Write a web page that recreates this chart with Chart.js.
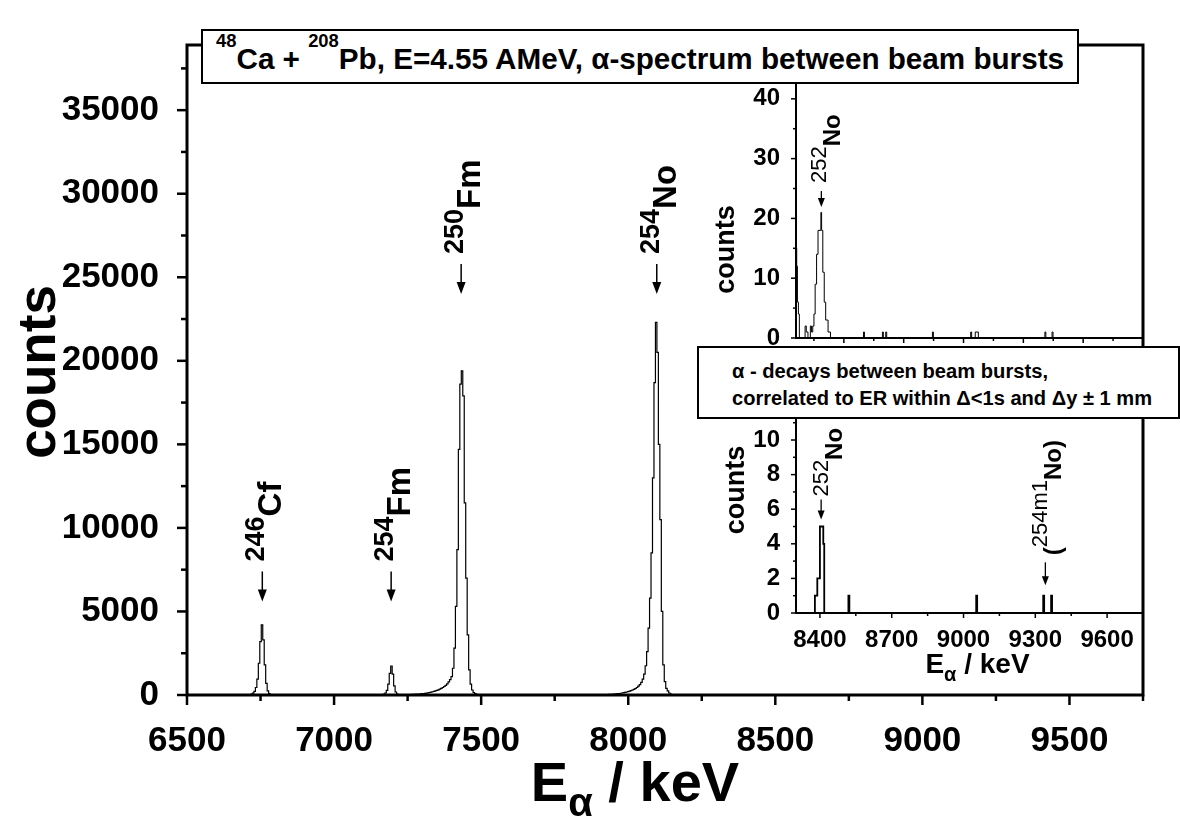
<!DOCTYPE html>
<html>
<head>
<meta charset="utf-8">
<title>48Ca + 208Pb alpha spectrum</title>
<script src="https://cdn.jsdelivr.net/npm/chart.js@4.4.1/dist/chart.umd.min.js"></script>
<style>
  body { margin: 0; background: #fff; }
  #wrap { position: relative; width: 1180px; height: 838px; overflow: hidden; background: #fff; }
  canvas { position: absolute; }
  #mainChart { left: 0; top: 0; }
  #topInset { left: 700px; top: 40px; }
  #botInset { left: 700px; top: 400px; }
  .box { position: absolute; box-sizing: border-box; background: #fff; border: 2px solid #000;
         font-family: "Liberation Sans", Arial, sans-serif; font-weight: bold; color: #000; }
  .txt { position: absolute; white-space: nowrap; transform-origin: 0 50%; }
  #titleBox { left: 201px; top: 29px; width: 878px; height: 55px; }
  #titleTxt { left: 13px; top: 14px; font-size: 29px; line-height: 29px; }
  .sup { position: relative; top: -22px; font-size: 18px; }
  #capBox { left: 697px; top: 346px; width: 483px; height: 73px; }
  #cap1 { left: 33px; top: 13px; font-size: 20px; line-height: 20px; }
  #cap2 { left: 33px; top: 40px; font-size: 20px; line-height: 20px; }
</style>
</head>
<body>
<div id="wrap">
  <canvas id="mainChart" width="1180" height="838"></canvas>
  <canvas id="topInset" width="450" height="305"></canvas>
  <canvas id="botInset" width="450" height="292"></canvas>
  <div class="box" id="titleBox"><div class="txt" id="titleTxt"><span class="sup">48</span>Ca + <span class="sup">208</span>Pb, E=4.55 AMeV, α-spectrum between beam bursts</div></div>
  <div class="box" id="capBox"><div class="txt" id="cap1">α - decays between beam bursts,</div><div class="txt" id="cap2">correlated to ER within Δ&lt;1s and Δy ± 1 mm</div></div>
</div>
<script>
const FONT = '"Liberation Sans", Arial, sans-serif';

// ---------------- main spectrum (5 keV bins) ----------------
const binWidth = 5;
const cf246Start = 6715;
const cf246Counts = [30, 60, 110, 220, 450, 950, 1900, 3200, 4200, 3300, 1800, 700, 250, 90, 30, 0];
const fm254Start = 7150;
const fm254Counts = [5, 10, 20, 30, 60, 120, 280, 650, 1300, 1735, 1250, 550, 180, 60, 20, 5, 0];
const fm250Start = 7250;
const fm250Counts = [20, 25, 30, 35, 40, 45, 50, 55, 60, 70,
    80, 90, 100, 115, 130, 150, 170, 195, 220, 250,
    280, 310, 350, 400, 450, 510, 580, 660, 780, 920,
    1100, 1600, 2800, 5300, 8700, 14700, 18600, 19400, 17900, 11500,
    7000, 3600, 1500, 650, 300, 150, 80, 40, 20, 10, 0];
const no254Start = 7900;
const no254Counts = [10, 12, 15, 18, 20, 25, 30, 35, 40, 45,
    50, 60, 70, 80, 90, 105, 120, 140, 160, 180,
    200, 230, 260, 300, 340, 390, 450, 530, 620, 750,
    950, 1250, 1750, 2600, 4000, 5800, 8500, 13000, 18700, 22300,
    20500, 15000, 10500, 5000, 1800, 800, 400, 250, 120, 60,
    30, 10, 0];

const mainXTicks = [6500, 7000, 7500, 8000, 8500, 9000, 9500];
const mainXMinor = [6750, 7250, 7750, 8250, 8750, 9250, 9750];
const mainYTicks = [0, 5000, 10000, 15000, 20000, 25000, 30000, 35000];
const mainYMinor = [2500, 7500, 12500, 17500, 22500, 27500, 32500, 37500];

const peakEnergies = [6756, 7194, 7432, 8097];
const peakArrowTips = [5600, 5600, 24000, 24000];
const peakMass = ['246', '254', '250', '254'];
const peakElem = ['Cf', 'Fm', 'Fm', 'No'];

// ---------------- upper inset: all alphas between bursts ----------------
const topInsetE = [8300, 8303, 8306, 8310, 8314, 8338, 8343, 8350, 8360, 8365, 8370, 8375, 8380, 8386, 8392,
    8404, 8407, 8412, 8418, 8424, 8434, 8444, 8582, 8586, 8661, 8665, 8675, 8679, 8870, 8874,
    9030, 9034, 9049, 9062, 9340, 9344, 9370, 9374, 9750];
const topInsetCounts = [15, 12, 6, 4, 0, 2, 1, 0, 2, 1, 2, 4, 9, 14, 18,
    21, 18, 11, 6, 3, 1, 0, 1, 0, 1, 0, 1, 0, 1, 0,
    1, 0, 1, 0, 1, 0, 1, 0, 0];
const topXMajor = [8500, 8750, 9000, 9250, 9500];
const topXMinor = [8375, 8625, 8875, 9125, 9375, 9625];
const topYTicks = [0, 10, 20, 30, 40];
const topYMinor = [5, 15, 25, 35, 45];
const topPeakE = [8406];
const topPeakTip = [21.9];
const topPeakMass = ['252'];
const topPeakElem = ['No'];

// ---------------- lower inset: correlated to ER ----------------
const botInsetE = [8300, 8379, 8389, 8400, 8414, 8418, 8519, 8523, 9053, 9057, 9333, 9337, 9366, 9370, 9750];
const botInsetCounts = [0, 1, 2, 5, 4, 0, 1, 0, 1, 0, 1, 0, 1, 0, 0];
const botXTicks = [8400, 8700, 9000, 9300, 9600];
const botXMinor = [8550, 8850, 9150, 9450];
const botYTicks = [0, 2, 4, 6, 8, 10];
const botYMinor = [1, 3, 5, 7, 9, 11];
const botPeakE = [8405, 9342];
const botPeakTip = [5.4, 1.6];
const botPeakMass = ['252', '254m1'];
const botPeakElem = ['No', 'No'];
const botPeakWrap = [false, true];

// ---------------- helpers ----------------
const toPoints = (start, counts) => counts.map((c, i) => ({ x: start + i * binWidth, y: c }));
const zipPoints = (xs, ys) => xs.map((x, i) => ({ x, y: ys[i] }));

const richWidth = (ctx, parts) => parts.reduce((w, p) => { ctx.font = p.font; return w + ctx.measureText(p.text).width; }, 0);

const drawRich = (ctx, parts, x, y, rotated) => {
    ctx.save();
    ctx.translate(x, y);
    if (rotated) ctx.rotate(-Math.PI / 2);
    ctx.textAlign = 'left';
    ctx.textBaseline = 'alphabetic';
    let cx = 0;
    parts.forEach(p => {
        ctx.font = p.font;
        ctx.fillText(p.text, cx, -(p.rise || 0));
        cx += ctx.measureText(p.text).width;
    });
    ctx.restore();
};

// frame, major/minor ticks, axis titles and peak arrows, placed with the chart's scales
const makeDecor = cfg => ({
    id: 'decor',
    afterDraw(chart) {
        const { ctx, chartArea: a, scales: { x, y } } = chart;
        ctx.save();
        ctx.strokeStyle = '#000';
        ctx.fillStyle = '#000';
        ctx.lineWidth = cfg.frame;
        ctx.strokeRect(a.left, a.top, a.right - a.left, a.bottom - a.top);

        ctx.lineWidth = cfg.tickWidth;
        const xTick = (v, len) => {
            const px = x.getPixelForValue(v);
            ctx.beginPath(); ctx.moveTo(px, a.bottom); ctx.lineTo(px, a.bottom + len); ctx.stroke();
        };
        const yTick = (v, len) => {
            const py = y.getPixelForValue(v);
            ctx.beginPath(); ctx.moveTo(a.left, py); ctx.lineTo(a.left - len, py); ctx.stroke();
        };
        cfg.xMajor.forEach(v => xTick(v, cfg.majorLen));
        cfg.xMinor.forEach(v => xTick(v, cfg.minorLen));
        cfg.yMajor.forEach(v => yTick(v, cfg.majorLen));
        cfg.yMinor.forEach(v => yTick(v, cfg.minorLen));

        // y title
        const yt = cfg.yTitle;
        ctx.save();
        ctx.translate(a.left - yt.dx, (a.top + a.bottom) / 2 + yt.dy);
        ctx.rotate(-Math.PI / 2);
        ctx.font = yt.font;
        ctx.textAlign = 'center';
        ctx.textBaseline = 'middle';
        ctx.fillText(yt.text, 0, 0);
        ctx.restore();

        // x title
        if (cfg.xTitle) {
            const xt = cfg.xTitle;
            const w = richWidth(ctx, xt.parts);
            drawRich(ctx, xt.parts, (a.left + a.right) / 2 + xt.dx - w / 2, a.bottom + xt.dy, false);
        }

        // peak arrows + rotated labels
        cfg.marks.forEach(m => {
            const px = x.getPixelForValue(m.e);
            const py = y.getPixelForValue(m.tip);
            const top = py - m.len;
            ctx.lineWidth = cfg.arrowWidth;
            ctx.beginPath(); ctx.moveTo(px, top); ctx.lineTo(px, py - cfg.head[1] + 1); ctx.stroke();
            ctx.beginPath();
            ctx.moveTo(px, py);
            ctx.lineTo(px - cfg.head[0] / 2, py - cfg.head[1]);
            ctx.lineTo(px + cfg.head[0] / 2, py - cfg.head[1]);
            ctx.closePath(); ctx.fill();
            drawRich(ctx, m.parts, px + m.shift, top - m.gap, true);
        });
        ctx.restore();
    }
});

const makeScale = (min, max, ticks, size, pad, fitKey, fitVal, show) => ({
    type: 'linear', min, max,
    grid: { display: false },
    border: { display: false },
    afterBuildTicks: s => { s.ticks = ticks.map(v => ({ value: v })); },
    afterFit: s => {
        s[fitKey] = fitVal;
        // keep label overhang from moving the plot frame
        s.paddingTop = s.paddingBottom = s.paddingLeft = s.paddingRight = 0;
    },
    ticks: {
        display: show, color: '#000', padding: pad, maxRotation: 0, autoSkip: false,
        font: { family: FONT, size, weight: 'bold' },
        callback: v => String(v)
    }
});

const baseOptions = padding => ({
    responsive: false,
    animation: false,
    devicePixelRatio: 1,
    events: [],
    layout: { padding },
    plugins: { legend: { display: false }, tooltip: { enabled: false } }
});

const lineSet = (data, width, stepped) => ({
    data, borderColor: '#000', borderWidth: width, pointRadius: 0, stepped, fill: false
});

// ---------------- main chart ----------------
const spectrum = [{ x: 6500, y: 0 },
    ...toPoints(cf246Start, cf246Counts),
    ...toPoints(fm254Start, fm254Counts),
    ...toPoints(fm250Start, fm250Counts),
    ...toPoints(no254Start, no254Counts),
    { x: 9750, y: 0 }];

const mainMarks = peakEnergies.map((e, i) => ({
    e, tip: peakArrowTips[i], len: 30, gap: 10, shift: 19,
    parts: [
        { text: peakMass[i], font: `bold 27px ${FONT}`, rise: 17 },
        { text: peakElem[i], font: `bold 33px ${FONT}` }
    ]
}));

new Chart(document.getElementById('mainChart'), {
    type: 'line',
    data: { datasets: [lineSet(spectrum, 1.2, 'middle')] },
    options: {
        ...baseOptions({ left: 0, top: 45, right: 37, bottom: 0 }),
        scales: {
            x: makeScale(6500, 9750, mainXTicks, 35, 17, 'height', 143, true),
            y: makeScale(0, 38900, mainYTicks, 35, 20, 'width', 187, true)
        }
    },
    plugins: [makeDecor({
        frame: 3, tickWidth: 2.5, majorLen: 10, minorLen: 6, arrowWidth: 1.5, head: [9, 12],
        xMajor: mainXTicks, xMinor: mainXMinor, yMajor: mainYTicks, yMinor: mainYMinor,
        yTitle: { text: 'counts', font: `bold 53px ${FONT}`, dx: 147, dy: 2 },
        xTitle: { dx: -30, dy: 106, parts: [
            { text: 'E', font: `bold 56px ${FONT}` },
            { text: 'α', font: `bold 40px ${FONT}`, rise: -15 },
            { text: ' / keV', font: `bold 56px ${FONT}` }
        ] },
        marks: mainMarks
    })]
});

// ---------------- upper inset ----------------
new Chart(document.getElementById('topInset'), {
    type: 'line',
    data: { datasets: [lineSet(zipPoints(topInsetE, topInsetCounts), 1, true)] },
    options: {
        ...baseOptions({ left: 0, top: 5, right: 7, bottom: 0 }),
        scales: {
            x: makeScale(8300, 9750, topXMajor, 24, 5, 'height', 7, false),
            y: makeScale(0, 49, topYTicks, 24, 8, 'width', 96, true)
        }
    },
    plugins: [makeDecor({
        frame: 2, tickWidth: 1.5, majorLen: 5, minorLen: 3, arrowWidth: 1.3, head: [7, 9],
        xMajor: topXMajor, xMinor: topXMinor, yMajor: topYTicks, yMinor: topYMinor,
        yTitle: { text: 'counts', font: `bold 27px ${FONT}`, dx: 69, dy: 58 },
        marks: topPeakE.map((e, i) => ({
            e, tip: topPeakTip[i], len: 16, gap: 8, shift: 19,
            parts: [
                { text: topPeakMass[i], font: `22px ${FONT}`, rise: 14 },
                { text: topPeakElem[i], font: `bold 24px ${FONT}` }
            ]
        }))
    })]
});

// ---------------- lower inset ----------------
new Chart(document.getElementById('botInset'), {
    type: 'line',
    data: { datasets: [lineSet(zipPoints(botInsetE, botInsetCounts), 1.8, true)] },
    options: {
        ...baseOptions({ left: 0, top: 17, right: 7, bottom: 0 }),
        scales: {
            x: makeScale(8300, 9750, botXTicks, 24, 5, 'height', 79, true),
            y: makeScale(0, 11.33, botYTicks, 24, 8, 'width', 96, true)
        }
    },
    plugins: [makeDecor({
        frame: 2, tickWidth: 1.5, majorLen: 5, minorLen: 3, arrowWidth: 1.3, head: [7, 9],
        xMajor: botXTicks, xMinor: botXMinor, yMajor: botYTicks, yMinor: botYMinor,
        yTitle: { text: 'counts', font: `bold 27px ${FONT}`, dx: 59, dy: -25 },
        xTitle: { dx: 8, dy: 60, parts: [
            { text: 'E', font: `bold 28px ${FONT}` },
            { text: 'α', font: `bold 20px ${FONT}`, rise: -8 },
            { text: ' / keV', font: `bold 28px ${FONT}` }
        ] },
        marks: botPeakE.map((e, i) => ({
            e, tip: botPeakTip[i], len: botPeakWrap[i] ? 23 : 20, gap: botPeakWrap[i] ? 7 : 3, shift: botPeakWrap[i] ? 16 : 21,
            parts: [
                ...(botPeakWrap[i] ? [{ text: '(', font: `bold 24px ${FONT}` }] : []),
                { text: botPeakMass[i], font: `22px ${FONT}`, rise: 14 },
                { text: botPeakElem[i] + (botPeakWrap[i] ? ')' : ''), font: `bold 24px ${FONT}` }
            ]
        }))
    })]
});

// squeeze the box texts to the widths they have in the figure
const fitText = (id, width) => {
    const el = document.getElementById(id);
    const w = el.getBoundingClientRect().width;
    el.style.transform = `scaleX(${width / w})`;
};
fitText('titleTxt', 848);
fitText('cap1', 316);
fitText('cap2', 420);
</script>
</body>
</html>
